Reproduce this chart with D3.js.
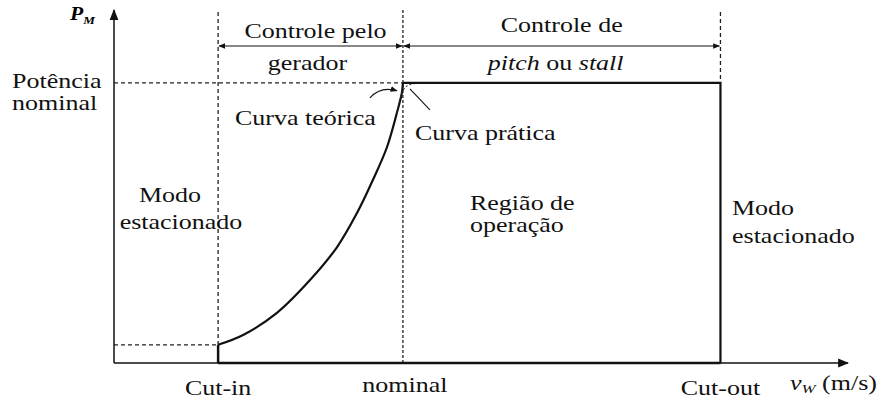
<!DOCTYPE html>
<html>
<head>
  <meta charset="utf-8">
  <title>Curva de potência - turbina eólica</title>
  <style>
    body { margin: 0; background: #fff; }
  </style>
  <script src="https://d3js.org/d3.v7.min.js"></script>
</head>
<body>
  <div id="chart"></div>
  <script>
    // Characteristic wind speeds (m/s) and their labels
    const markerLabels = ["Cut-in", "nominal", "Cut-out"];
    const markerSpeeds = [4, 11.1, 23.3];

    // Power levels (pu)
    const ratedPower = 1.0;
    const cutInPower = 0.065;

    // Theoretical curve
    const curveSpeed = [4, 4.96, 6.26, 7.53, 8.57, 9.34, 9.95, 10.49, 10.87, 11.06, 11.1];
    const curvePower = [0.065, 0.1, 0.179, 0.296, 0.414, 0.536, 0.654, 0.771, 0.893, 0.964, 1.0];

    // Practical curve (rounded knee)
    const practicalSpeed = [10.87, 11.02, 11.2, 11.5, 12.0];
    const practicalPower = [0.893, 0.955, 0.985, 0.997, 1.0];

    // Region texts
    const regionLines = [["Modo", "estacionado"], ["Região de", "operação"], ["Modo", "estacionado"]];

    const W = 879, H = 403;
    const x = d3.scaleLinear().domain([0, 28.2]).range([114, 848]);
    const y = d3.scaleLinear().domain([0, 1.26]).range([363, 10]);
    const SX = 1.3; // the source typeface is set wide
    const FONT = '"Liberation Serif", "Times New Roman", Times';

    const svg = d3.select("#chart").append("svg")
      .attr("width", W).attr("height", H)
      .style("font-family", FONT);

    const defs = svg.append("defs");
    defs.append("marker").attr("id", "arr")
      .attr("viewBox", "0 0 10 10").attr("refX", 9).attr("refY", 5)
      .attr("markerWidth", 7).attr("markerHeight", 7)
      .attr("markerUnits", "userSpaceOnUse")
      .attr("orient", "auto-start-reverse")
      .append("path").attr("d", "M0,1 L10,5 L0,9 Z").attr("fill", "#111");
    defs.append("marker").attr("id", "arrBig")
      .attr("viewBox", "0 0 10 10").attr("refX", 9).attr("refY", 5)
      .attr("markerWidth", 11).attr("markerHeight", 11)
      .attr("markerUnits", "userSpaceOnUse")
      .attr("orient", "auto")
      .append("path").attr("d", "M0,1 L10,5 L0,9 Z").attr("fill", "#111");

    const [xIn, xNom, xOut] = markerSpeeds.map(v => x(v));
    const yRated = y(ratedPower), y0 = y(0);

    // Text helper with horizontal stretch
    function label(px, py, txt, anchor) {
      return svg.append("text")
        .attr("transform", `translate(${px},${py}) scale(${SX},1)`)
        .attr("text-anchor", anchor || "start")
        .style("font-family", FONT)
        .attr("font-size", 20)
        .attr("fill", "#111")
        .text(txt);
    }

    const dash = "4,3";
    // Dashed guides
    svg.append("line").attr("x1", x(0)).attr("x2", xNom).attr("y1", yRated).attr("y2", yRated)
      .attr("stroke", "#222").attr("stroke-width", 1.2).attr("stroke-dasharray", dash);
    svg.append("line").attr("x1", x(0)).attr("x2", xIn).attr("y1", y(cutInPower)).attr("y2", y(cutInPower))
      .attr("stroke", "#222").attr("stroke-width", 1.2).attr("stroke-dasharray", dash);
    svg.append("line").attr("x1", xIn).attr("x2", xIn).attr("y1", 12).attr("y2", y(cutInPower))
      .attr("stroke", "#222").attr("stroke-width", 1.3).attr("stroke-dasharray", dash);
    svg.append("line").attr("x1", xNom).attr("x2", xNom).attr("y1", 10).attr("y2", y0)
      .attr("stroke", "#222").attr("stroke-width", 1.3).attr("stroke-dasharray", "3,2");
    svg.append("line").attr("x1", xOut).attr("x2", xOut).attr("y1", 12).attr("y2", yRated)
      .attr("stroke", "#222").attr("stroke-width", 1.3).attr("stroke-dasharray", dash);

    // Axes
    svg.append("line").attr("x1", x(0)).attr("x2", x(0)).attr("y1", y0).attr("y2", y(1.26))
      .attr("stroke", "#111").attr("stroke-width", 1.5).attr("marker-end", "url(#arrBig)");
    svg.append("line").attr("x1", x(0)).attr("x2", x(28.2)).attr("y1", y0).attr("y2", y0)
      .attr("stroke", "#111").attr("stroke-width", 1.5).attr("marker-end", "url(#arrBig)");

    // Power curve: zero up to cut-in, curve, rated, drop at cut-out
    const line = d3.line().x(d => x(d[0])).y(d => y(d[1]));
    svg.append("path")
      .datum([[markerSpeeds[0], 0], [markerSpeeds[0], cutInPower]])
      .attr("d", line).attr("fill", "none").attr("stroke", "#111").attr("stroke-width", 2.5);
    svg.append("path")
      .datum([[markerSpeeds[0], 0], [markerSpeeds[2], 0]])
      .attr("d", line).attr("fill", "none").attr("stroke", "#111").attr("stroke-width", 2.5);
    const curve = d3.line().x(d => x(d[0])).y(d => y(d[1])).curve(d3.curveCatmullRom);
    svg.append("path")
      .datum(curveSpeed.map((v, i) => [v, curvePower[i]]))
      .attr("d", curve).attr("fill", "none").attr("stroke", "#111").attr("stroke-width", 2.2);
    svg.append("path")
      .datum(practicalSpeed.map((v, i) => [v, practicalPower[i]]))
      .attr("d", curve).attr("fill", "none").attr("stroke", "#333").attr("stroke-width", 1.1)
      .attr("stroke-dasharray", "2,2");
    svg.append("path")
      .datum([[markerSpeeds[1], ratedPower], [markerSpeeds[2], ratedPower], [markerSpeeds[2], 0]])
      .attr("d", line).attr("fill", "none").attr("stroke", "#111").attr("stroke-width", 2.2);

    // Control range arrows
    const yArr = 46;
    svg.append("line").attr("x1", xIn + 1).attr("x2", xNom - 1).attr("y1", yArr).attr("y2", yArr)
      .attr("stroke", "#111").attr("stroke-width", 1.2)
      .attr("marker-start", "url(#arr)").attr("marker-end", "url(#arr)");
    svg.append("line").attr("x1", xNom + 1).attr("x2", xOut - 1).attr("y1", yArr).attr("y2", yArr)
      .attr("stroke", "#111").attr("stroke-width", 1.2)
      .attr("marker-start", "url(#arr)").attr("marker-end", "url(#arr)");

    // Annotation pointers
    svg.append("path")
      .attr("d", `M${xNom - 33},${yRated + 15} Q${xNom - 22},${yRated + 3} ${xNom - 6},${yRated + 8}`)
      .attr("fill", "none").attr("stroke", "#111").attr("stroke-width", 1.1)
      .attr("marker-end", "url(#arr)");
    svg.append("line").attr("x1", xNom + 27).attr("y1", yRated + 27).attr("x2", xNom + 7).attr("y2", yRated + 6)
      .attr("stroke", "#111").attr("stroke-width", 1.1);

    // Header texts
    label((xIn + xNom) / 2 + 5, 38, "Controle pelo", "middle");
    label((xIn + xNom) / 2 - 3, 70, "gerador", "middle");
    label((xNom + xOut) / 2, 32, "Controle de", "middle");
    const pt = label((xNom + xOut) / 2 - 6, 70, "", "middle");
    pt.append("tspan").attr("font-style", "italic").text("pitch");
    pt.append("tspan").text(" ou ");
    pt.append("tspan").attr("font-style", "italic").text("stall");

    // Y label texts
    label(12, 88, "Potência");
    label(12, 110, "nominal");
    const pm = svg.append("text").attr("transform", "translate(70,20) scale(1.2,1)")
      .style("font-family", FONT)
      .attr("font-weight", "bold").attr("font-style", "italic");
    pm.append("tspan").attr("font-size", 18).text("P");
    pm.append("tspan").attr("font-size", 11).attr("dy", 4).text("M");

    // Curve labels
    label(235, 125, "Curva teórica");
    label(xNom + 12, 140, "Curva prática");

    // Region labels
    label(170, 202, regionLines[0][0], "middle");
    label(181, 229, regionLines[0][1], "middle");
    label(470, 210, regionLines[1][0]);
    label(470, 232, regionLines[1][1]);
    label(732, 215, regionLines[2][0]);
    label(732, 243, regionLines[2][1]);

    // X markers
    markerLabels.forEach((t, i) => {
      label(x(markerSpeeds[i]) + (i === 1 ? 2 : 0), i === 1 ? 392 : 395, t, "middle");
    });
    const vw = svg.append("text").attr("transform", "translate(790,390) scale(1.3,1)")
      .style("font-family", FONT).attr("font-size", 20).attr("fill", "#111");
    vw.append("tspan").attr("font-style", "italic").text("v");
    vw.append("tspan").attr("font-style", "italic").attr("font-size", 13).attr("dy", 3).text("W");
    vw.append("tspan").attr("dy", -3).text(" (m/s)");
  </script>
</body>
</html>
